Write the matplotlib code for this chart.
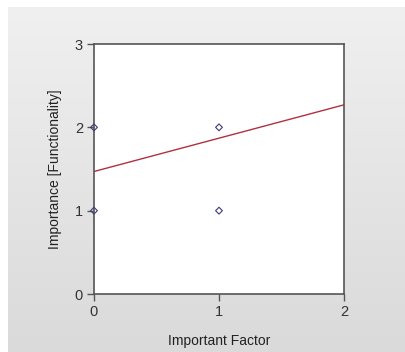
import matplotlib.pyplot as plt
import numpy as np

# data
factor = [0, 0, 1, 1]
importance = [2, 1, 2, 1]
fit_intercept = 1.47
fit_slope = 0.40
x_ticks = [0, 1, 2]
y_ticks = [0, 1, 2, 3]

plt.rcParams['font.family'] = ['Liberation Sans', 'DejaVu Sans']

fig = plt.figure(figsize=(4.06, 3.52), dpi=100)
fig.patch.set_facecolor('white')

# gray gradient panel behind the chart
bg = fig.add_axes([8 / 406, 0, 1 - 8 / 406, 1 - 7 / 352])
grad = np.linspace(0.94, 0.855, 256).reshape(-1, 1)
bg.imshow(np.dstack([grad, grad, grad]), aspect='auto', extent=[0, 1, 0, 1])
bg.set_axis_off()

ax = fig.add_axes([94 / 406, 58 / 352, 250 / 406, 250 / 352])
ax.set_facecolor('white')

xs = np.array([0, 2])
ax.plot(xs, fit_intercept + fit_slope * xs, color='#b03040', lw=1.0, zorder=2)
ax.scatter(factor, importance, marker='D', s=12, facecolors='none',
           edgecolors='#3a3a7a', linewidths=0.8, zorder=3, clip_on=False)

ax.set_xlim(0, 2)
ax.set_ylim(0, 3)
ax.set_xticks(x_ticks)
ax.set_yticks(y_ticks)
ax.tick_params(direction='out', length=5, width=1, color='#555555',
               labelsize=10.5, labelcolor='#333333', pad=3)
for s in ax.spines.values():
    s.set_color('#555555')
    s.set_linewidth(1.2)

ax.set_xlabel('Important Factor', fontsize=10, color='#222222', labelpad=11)
ax.set_ylabel('Importance [Functionality]', fontsize=10, color='#222222', labelpad=9)

fig.savefig('out.png', dpi=100)
